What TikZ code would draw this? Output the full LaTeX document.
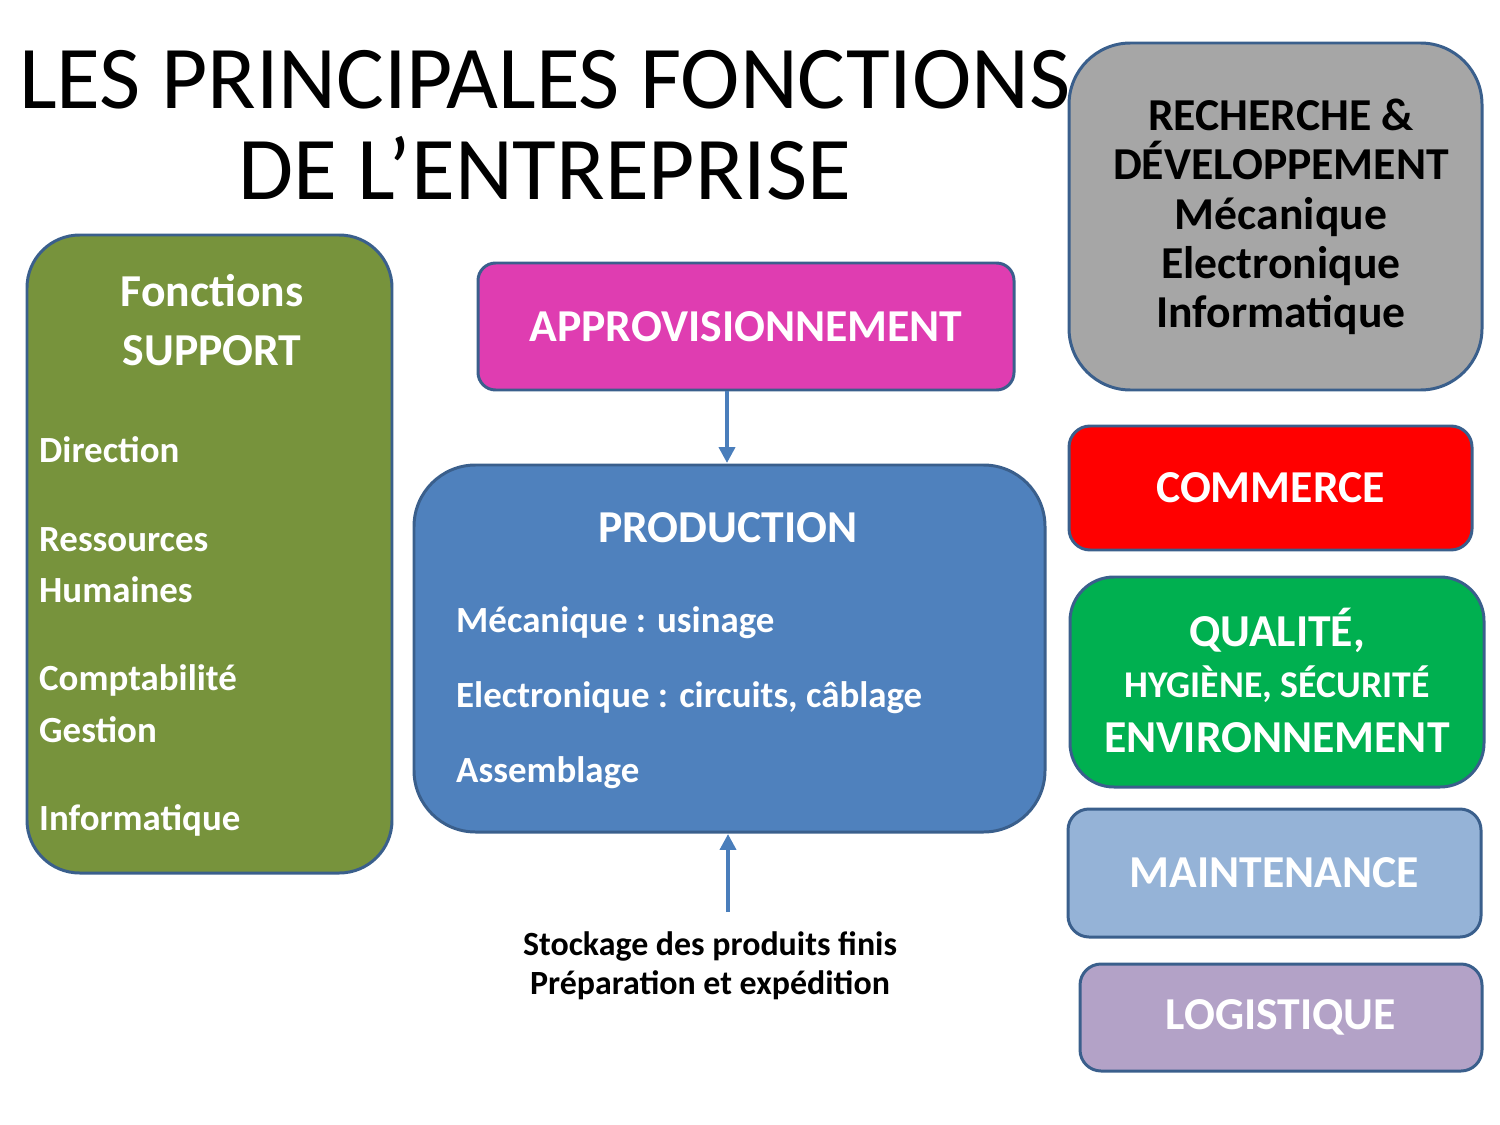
\documentclass[tikz,border=0pt]{standalone}
\usepackage{fontspec}
\setmainfont{Carlito}
\usetikzlibrary{arrows.meta}
\definecolor{bord}{HTML}{3A5F8C}
\definecolor{gr}{HTML}{77933C}
\definecolor{mag}{HTML}{DF3DB1}
\definecolor{prod}{HTML}{4F81BD}
\definecolor{gy}{HTML}{A6A6A6}
\definecolor{qg}{HTML}{00B050}
\definecolor{mt}{HTML}{95B3D7}
\definecolor{lg}{HTML}{B3A2C7}
\definecolor{arr}{HTML}{4A7EBB}
\newcommand{\fs}[1]{\fontsize{#1}{#1}\selectfont}
\tikzset{x=0.02cm,y=-0.02cm,
 box/.style={draw=bord,line width=1.7pt},
 wt/.style={text=white,font=\bfseries\fs{26pt}},
 it/.style={text=white,font=\bfseries\fs{21pt},anchor=west},
 ar/.style={draw=arr,line width=2.2pt,-{Triangle[width=9pt,length=9pt]}}}
\begin{document}
\begin{tikzpicture}
\useasboundingbox (0,0) rectangle (1500,1125);
\node (t1) at (545,80) {\fs{51pt}LES PRINCIPALES FONCTIONS};
\node (t2) at (545,168) {\fs{51pt}DE L’ENTREPRISE};
% support
\draw[box,fill=gr,rounded corners=30pt] (27,235) rectangle (392,873);
\node[wt] (s1) at (212,291) {Fonctions};
\node[wt] (s2) at (212,351) {SUPPORT};
\node[it] (d1) at (33,450) {Direction};
\node[it] (d2) at (33,540) {Ressources};
\node[it] (d3) at (33,590) {Humaines};
\node[it] (d4) at (33,680) {Comptabilité};
\node[it] (d5) at (33,730) {Gestion};
\node[it] (d6) at (33,820) {Informatique};
% appro
\node[box,fill=mag,rounded corners=10pt,minimum width=536*0.02cm,minimum height=127*0.02cm,wt] (ap) at (746,326.5) {APPROVISIONNEMENT};
% production
\node[box,fill=prod,rounded corners=35pt,minimum width=631*0.02cm,minimum height=367*0.02cm] (pr) at (729.5,648.5) {};
\node[wt] (pt) at (728,528) {PRODUCTION};
\node[it] (p1) at (450,623) {Mécanique : usinage};
\node[it] (p2) at (450,698) {Electronique : circuits, câblage};
\node[it] (p3) at (450,773) {Assemblage};
\draw[ar] (ap.south -| 727,0) -- (727,463);
\coordinate (sb) at (728,912);
\draw[ar] (sb) -- (728,834);
\node[font=\bfseries\fs{19.3pt},align=center] (st) at (710,966) {Stockage des produits finis\\[3pt]Préparation et expédition};
% right
\node[box,fill=gy,rounded corners=35pt,minimum width=413*0.02cm,minimum height=347*0.02cm] (rd) at (1275.5,216.5) {};
\node[font=\bfseries\fs{26pt},align=center] (rdt) at (1281,217) {RECHERCHE \&\\[2pt]DÉVELOPPEMENT\\[2pt]Mécanique\\[2pt]Electronique\\[2pt]Informatique};
\node[box,fill=red,rounded corners=12pt,minimum width=403*0.02cm,minimum height=124*0.02cm,wt] (co) at (1270.5,488) {COMMERCE};
\node[box,fill=qg,rounded corners=25pt,minimum width=414*0.02cm,minimum height=210*0.02cm] (q) at (1277,682) {};
\node[wt] (q1) at (1277,630) {QUALITÉ,};
\node[text=white,font=\bfseries\fs{21.5pt}] (q2) at (1277,684) {HYGIÈNE, SÉCURITÉ};
\node[wt] (q3) at (1277,738) {ENVIRONNEMENT};
\node[box,fill=mt,rounded corners=12pt,minimum width=413*0.02cm,minimum height=128*0.02cm,wt] (mn) at (1274.5,873) {MAINTENANCE};
\node[box,fill=lg,rounded corners=12pt,minimum width=402*0.02cm,minimum height=107*0.02cm,wt] (lo) at (1281,1017.5) {LOGISTIQUE};
\end{tikzpicture}
\end{document}
